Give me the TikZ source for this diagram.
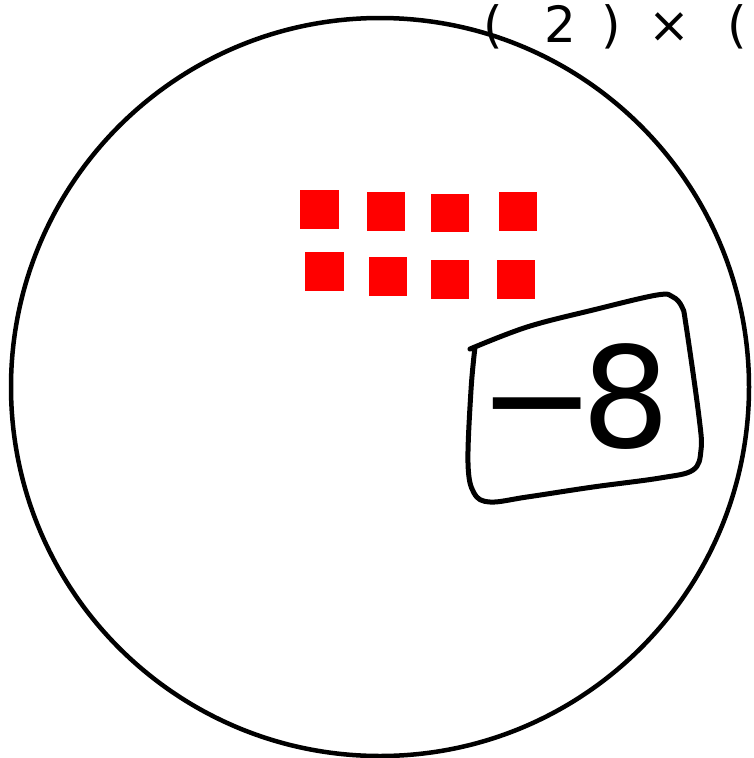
\documentclass[tikz,border=0pt]{standalone}
\usepackage{fontspec}
\setmainfont{DejaVu Sans}
\begin{document}
\begin{tikzpicture}[x=1pt,y=-1pt,
  ink/.style={line width=5pt,line cap=round,line join=round},
  tile/.style={fill=red,draw=none},
  hand/.style={font=\fontsize{140}{140}\selectfont,inner sep=0pt}]
\useasboundingbox (0,0) rectangle (753,758);
\clip (0,0) rectangle (753,758);
% big circle
\draw[line width=4.5pt] (380,387) circle[radius=369];
% red tiles, row 1
\fill[tile] (300,190) rectangle (339,229);
\fill[tile] (367,192) rectangle (405,231);
\fill[tile] (431,194) rectangle (469,232);
\fill[tile] (499,192) rectangle (537,231);
% red tiles, row 2
\fill[tile] (305,252) rectangle (344,291);
\fill[tile] (369,257) rectangle (407,296);
\fill[tile] (431,260) rectangle (469,299);
\fill[tile] (497,260) rectangle (535,299);
% hand drawn box
\draw[ink] plot[smooth,tension=0.6] coordinates {(470,349) (527,327) (593,310) (657,295) (673,297) (682,307) (686,325) (699,417) (701,450) (693,470) (660,478) (593,487) (527,497) (490,502) (474,493) (468,463) (471,390) (475,347)};
% label
\node[hand,anchor=base west] (lbl) at (478,447) {−\hspace{-14pt}8};
% label at top
\node[font=\fontsize{50}{50}\selectfont,anchor=base west,inner sep=0pt] (top) at (483,42) {(\hspace{42pt}2\hspace{25pt})\hspace{27pt}×\hspace{38pt}(};
\end{tikzpicture}
\end{document}
